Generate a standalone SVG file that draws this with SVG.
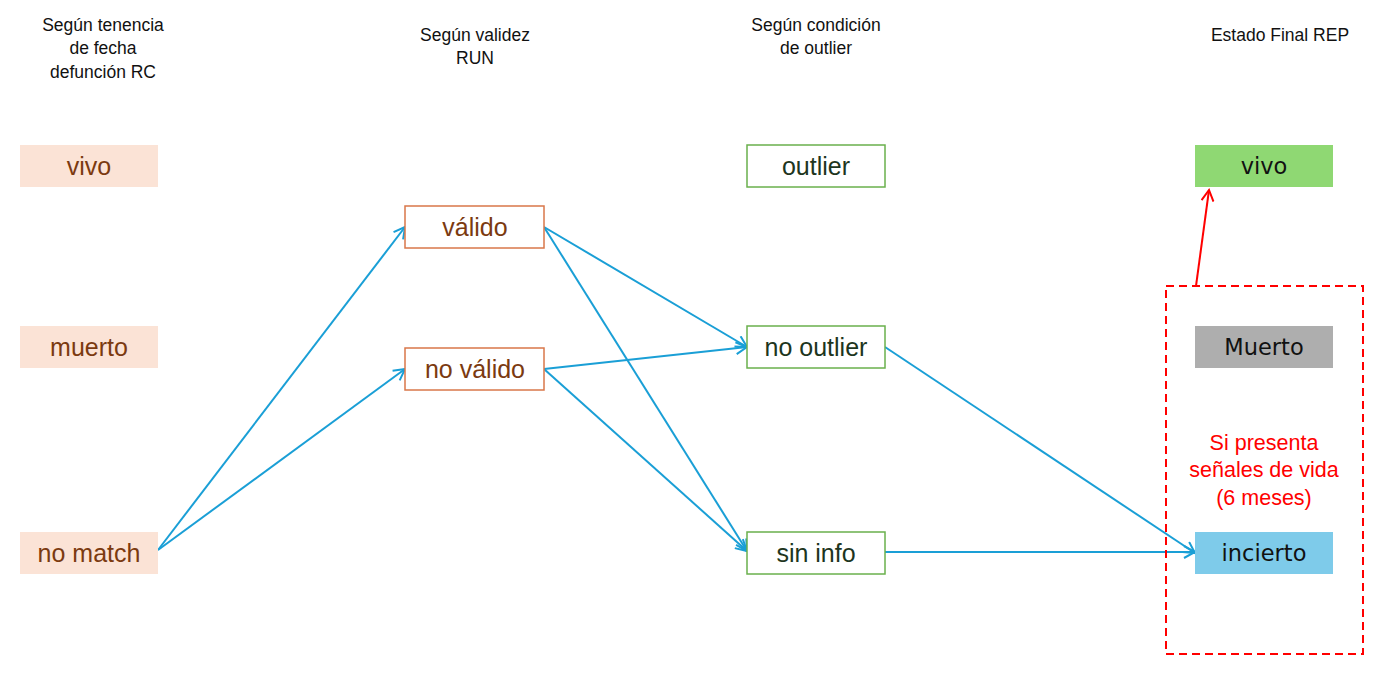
<svg xmlns="http://www.w3.org/2000/svg" width="1379" height="686" viewBox="0 0 1379 686">
<style>
.hdr{font-family:"Liberation Sans",Arial,sans-serif;font-size:17.5px;fill:#111;text-anchor:middle}
.lt{font-family:"Liberation Sans",Arial,sans-serif;font-size:25px;fill:#7b3a10;text-anchor:middle}
.gt{font-family:"Liberation Sans",Arial,sans-serif;font-size:25px;fill:#1d3520;text-anchor:middle}
.rt{font-family:"DejaVu Sans",Verdana,sans-serif;font-size:22.5px;fill:#111;text-anchor:middle}
.peach{fill:#fbe3d6}
.orange{fill:#fff;stroke:#d9774a;stroke-width:1.5}
.green{fill:#fff;stroke:#6ab04c;stroke-width:1.5}
.conn{stroke:#1a9fd6;stroke-width:2;fill:none;marker-end:url(#ab)}
.red{font-family:"Liberation Sans",Arial,sans-serif;font-size:21.5px;fill:#f00;text-anchor:middle}
</style>
<defs>
<marker id="ab" markerWidth="14" markerHeight="14" refX="12" refY="7" orient="auto" markerUnits="userSpaceOnUse">
<path d="M1,1 L12,7 L1,13" fill="none" stroke="#1a9fd6" stroke-width="2"/>
</marker>
<marker id="ar" markerWidth="14" markerHeight="14" refX="12" refY="7" orient="auto" markerUnits="userSpaceOnUse">
<path d="M1,1 L12,7 L1,13" fill="none" stroke="#f00" stroke-width="2"/>
</marker>
</defs>
<rect width="1379" height="686" fill="#fff"/>
<g id="headers">
<text class="hdr" x="103" y="31">Según tenencia</text>
<text class="hdr" x="103" y="54">de fecha</text>
<text class="hdr" x="103" y="78">defunción RC</text>
<text class="hdr" x="475" y="41">Según validez</text>
<text class="hdr" x="475" y="64">RUN</text>
<text class="hdr" x="816" y="31">Según condición</text>
<text class="hdr" x="816" y="54">de outlier</text>
<text class="hdr" x="1280" y="41">Estado Final REP</text>
</g>
<g id="connectors">
<line class="conn" x1="158" y1="550" x2="405" y2="227"/>
<line class="conn" x1="158" y1="550" x2="405" y2="369"/>
<line class="conn" x1="544" y1="227" x2="747" y2="347"/>
<line class="conn" x1="544" y1="227" x2="747" y2="551"/>
<line class="conn" x1="544" y1="369" x2="747" y2="347"/>
<line class="conn" x1="544" y1="369" x2="747" y2="551"/>
<line class="conn" x1="885" y1="347" x2="1195" y2="553"/>
<line class="conn" x1="885" y1="552" x2="1195" y2="552"/>
<line x1="1196" y1="286" x2="1209" y2="190" stroke="#f00" stroke-width="2" marker-end="url(#ar)"/>
</g>
<g id="n-vivo-l"><rect class="peach" x="20" y="145" width="138" height="42"/><text class="lt" x="89" y="175">vivo</text></g>
<g id="n-muerto-l"><rect class="peach" x="20" y="326" width="138" height="42"/><text class="lt" x="89" y="356">muerto</text></g>
<g id="n-nomatch"><rect class="peach" x="20" y="532" width="138" height="42"/><text class="lt" x="89" y="562">no match</text></g>
<g id="n-valido"><rect class="orange" x="405" y="206" width="139" height="42"/><text class="lt" x="475" y="236">válido</text></g>
<g id="n-novalido"><rect class="orange" x="405" y="348" width="139" height="42"/><text class="lt" x="475" y="378">no válido</text></g>
<g id="n-outlier"><rect class="green" x="747" y="145" width="138" height="42"/><text class="gt" x="816" y="175">outlier</text></g>
<g id="n-nooutlier"><rect class="green" x="747" y="326" width="138" height="42"/><text class="gt" x="816" y="356">no outlier</text></g>
<g id="n-sininfo"><rect class="green" x="747" y="532" width="138" height="42"/><text class="gt" x="816" y="562">sin info</text></g>
<g id="n-vivo-r"><rect x="1195" y="145" width="138" height="42" fill="#8fd873"/><text class="rt" x="1264" y="174">vivo</text></g>
<g id="n-muerto-r"><rect x="1195" y="326" width="138" height="42" fill="#aeaeae"/><text class="rt" x="1264" y="355">Muerto</text></g>
<g id="n-incierto"><rect x="1195" y="532" width="138" height="42" fill="#7ecbea"/><text class="rt" x="1264" y="561">incierto</text></g>
<g id="group-box">
<rect x="1166" y="286" width="197" height="368" fill="none" stroke="#f00" stroke-width="2" stroke-dasharray="8,5"/>
<text class="red" x="1264" y="450">Si presenta</text>
<text class="red" x="1264" y="477">señales de vida</text>
<text class="red" x="1264" y="505">(6 meses)</text>
</g>
</svg>
